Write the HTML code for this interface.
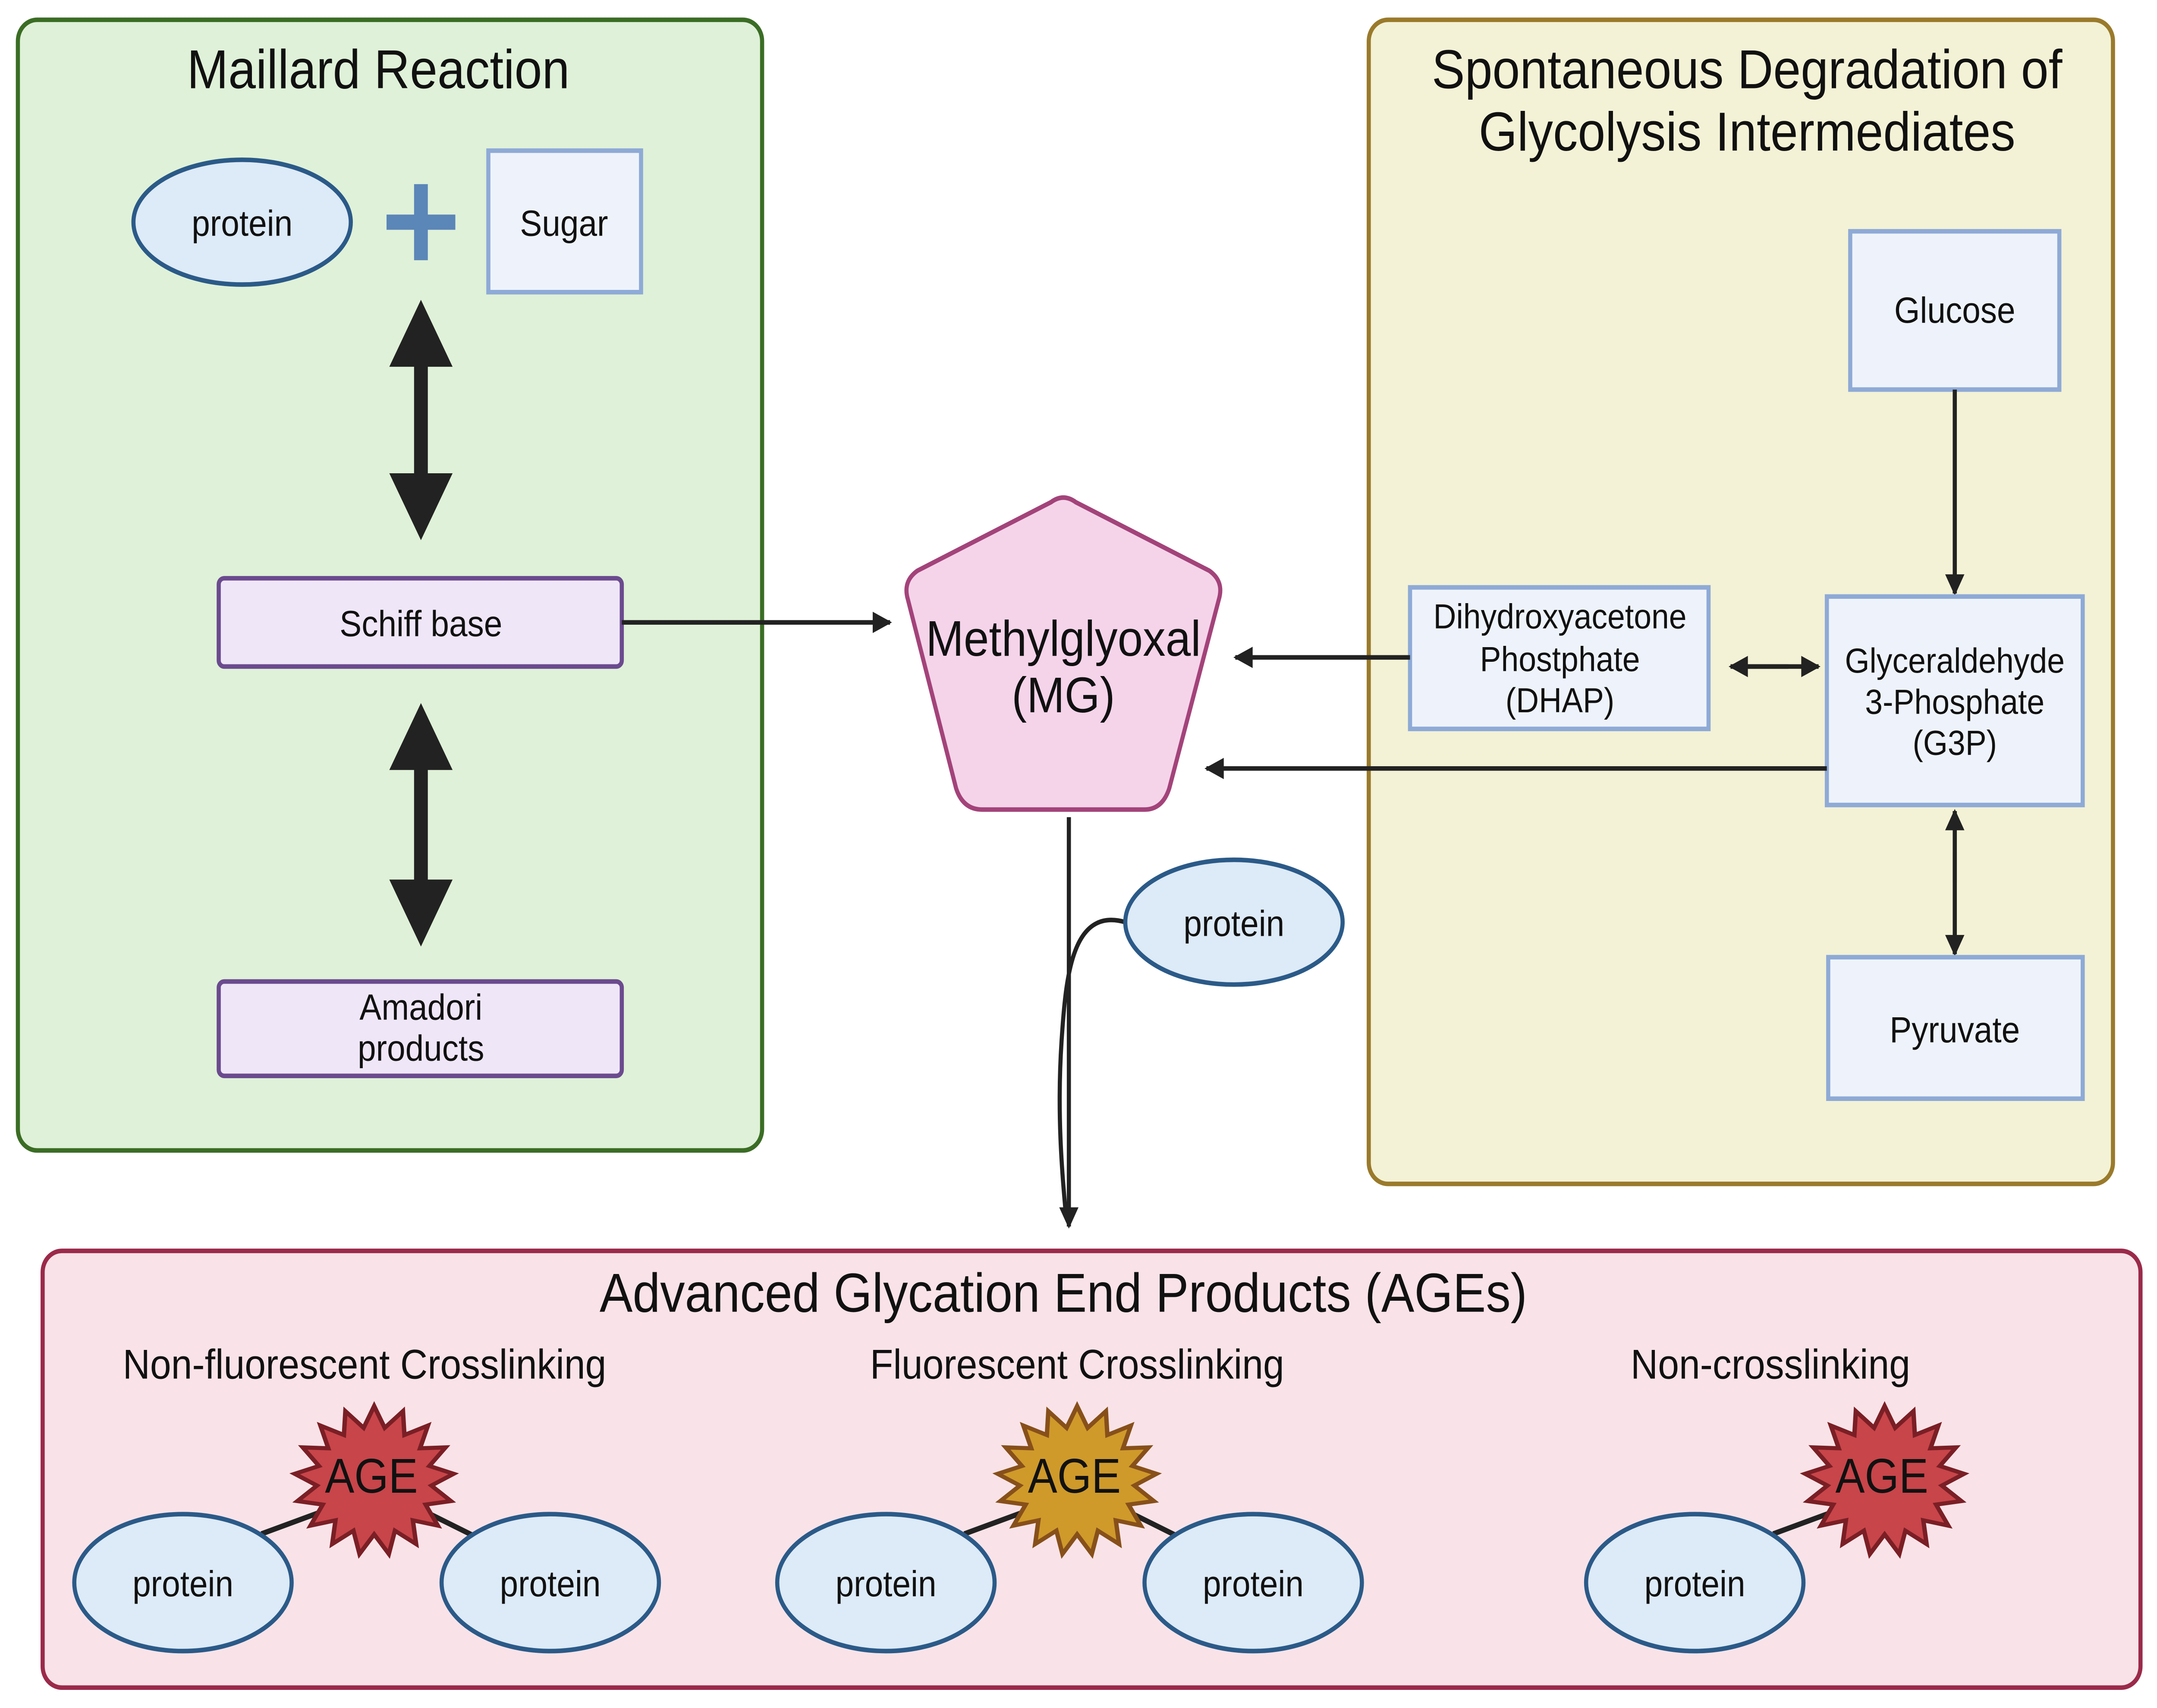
<!DOCTYPE html>
<html><head><meta charset="utf-8"><style>
html,body{margin:0;padding:0;background:#fff;width:100%;height:100%;overflow:hidden;}
svg{display:block;position:fixed;left:0;top:0;width:100vw;height:100vh;}
text{font-family:"Liberation Sans",sans-serif;fill:#111;text-anchor:middle;}
</style></head><body>
<svg viewBox="0 0 1568 1122.4" preserveAspectRatio="none" xmlns="http://www.w3.org/2000/svg">
<defs>
<polygon id="star" points="0,-1 .132,-.708 .361,-.932 .379,-.612 .674,-.739 .575,-.434 .895,-.446 .692,-.197 .996,-.092 .717,.066 .962,.274 .645,.321 .798,.603 .485,.532 .526,.85 .26,.671 .184,.983 0,.72 -.184,.983 -.26,.671 -.526,.85 -.485,.532 -.798,.603 -.645,.321 -.962,.274 -.717,.066 -.996,-.092 -.692,-.197 -.895,-.446 -.575,-.434 -.674,-.739 -.379,-.612 -.361,-.932 -.132,-.708"/>
<marker id="ah" viewBox="0 0 10 10" refX="9" refY="5" markerWidth="15" markerHeight="14" markerUnits="userSpaceOnUse" orient="auto"><path d="M0,0L10,5L0,10z" fill="#222"/></marker>
</defs>
<rect x="13" y="13" width="541" height="743" rx="14" fill="#dff1d8" stroke="#3b6d25" stroke-width="3"/>
<text x="275" y="58" font-size="36">Maillard Reaction</text>
<ellipse cx="176" cy="146" rx="79" ry="41" fill="#ddeaf7" stroke="#2b5a88" stroke-width="3"/>
<text x="176" y="155" font-size="24">protein</text>
<rect x="301" y="121" width="10" height="50" fill="#5b86b8"/>
<rect x="281" y="141" width="50" height="10" fill="#5b86b8"/>
<rect x="355" y="99" width="111" height="93" fill="#eef3fb" stroke="#8eaad6" stroke-width="3"/>
<text x="410" y="155" font-size="24">Sugar</text>
<rect x="301" y="238" width="10" height="78" fill="#222"/>
<path d="M306,197L329,241L283,241z M306,355L329,311L283,311z" fill="#222"/>
<rect x="159" y="380" width="293" height="58" rx="4" fill="#efe6f8" stroke="#6b4a8e" stroke-width="3"/>
<text x="306" y="418" font-size="24">Schiff base</text>
<rect x="301" y="503" width="10" height="78" fill="#222"/>
<path d="M306,462L329,506L283,506z M306,622L329,578L283,578z" fill="#222"/>
<rect x="159" y="645" width="293" height="62" rx="4" fill="#efe6f8" stroke="#6b4a8e" stroke-width="3"/>
<text x="306" y="670" font-size="24">Amadori</text>
<text x="306" y="697" font-size="24">products</text>
<line x1="452" y1="409" x2="647" y2="409" stroke="#222" stroke-width="3" marker-end="url(#ah)"/>
<rect x="995" y="13" width="541" height="765" rx="14" fill="#f3f2d6" stroke="#9a7a2b" stroke-width="3"/>
<text x="1270" y="58" font-size="36">Spontaneous Degradation of</text>
<text x="1270" y="99" font-size="36">Glycolysis Intermediates</text>
<rect x="1345" y="152" width="152" height="104" fill="#eef3fb" stroke="#8eaad6" stroke-width="3"/>
<text x="1421" y="212" font-size="24">Glucose</text>
<line x1="1421" y1="256" x2="1421" y2="390" stroke="#222" stroke-width="3" marker-end="url(#ah)"/>
<rect x="1328" y="392" width="186" height="137" fill="#eef3fb" stroke="#8eaad6" stroke-width="3"/>
<text x="1421" y="442" font-size="23">Glyceraldehyde</text>
<text x="1421" y="469" font-size="23">3-Phosphate</text>
<text x="1421" y="496" font-size="23">(G3P)</text>
<rect x="1025" y="386" width="217" height="93" fill="#eef3fb" stroke="#8eaad6" stroke-width="3"/>
<text x="1134" y="413" font-size="23">Dihydroxyacetone</text>
<text x="1134" y="441" font-size="23">Phostphate</text>
<text x="1134" y="468" font-size="23">(DHAP)</text>
<line x1="1270" y1="438" x2="1322" y2="438" stroke="#222" stroke-width="3" marker-end="url(#ah)"/>
<line x1="1300" y1="438" x2="1258" y2="438" stroke="#222" stroke-width="3" marker-end="url(#ah)"/>
<line x1="1025" y1="432" x2="898" y2="432" stroke="#222" stroke-width="3" marker-end="url(#ah)"/>
<line x1="1328" y1="505" x2="877" y2="505" stroke="#222" stroke-width="3" marker-end="url(#ah)"/>
<line x1="1421" y1="580" x2="1421" y2="533" stroke="#222" stroke-width="3" marker-end="url(#ah)"/>
<line x1="1421" y1="560" x2="1421" y2="627" stroke="#222" stroke-width="3" marker-end="url(#ah)"/>
<rect x="1329" y="629" width="185" height="93" fill="#eef3fb" stroke="#8eaad6" stroke-width="3"/>
<text x="1421" y="685" font-size="24">Pyruvate</text>
<path d="M764,330Q773,324 782,330L879,375Q890,382 886,394L850,518Q845,532 832,532L714,532Q700,532 695,518L660,394Q656,382 667,375Z" fill="#f5d4ea" stroke="#a3437a" stroke-width="3"/>
<text x="773" y="431" font-size="33">Methylglyoxal</text>
<text x="773" y="468" font-size="33">(MG)</text>
<line x1="777" y1="537" x2="777" y2="806" stroke="#222" stroke-width="3" marker-end="url(#ah)"/>
<path d="M818,606C780,596 775,640 772,680C768,730 772,770 775,800" fill="none" stroke="#222" stroke-width="3"/>
<ellipse cx="897" cy="606" rx="79" ry="41" fill="#ddeaf7" stroke="#2b5a88" stroke-width="3"/>
<text x="897" y="615" font-size="24">protein</text>
<rect x="31" y="822" width="1525" height="287" rx="14" fill="#f9e3e8" stroke="#9b2a4a" stroke-width="3"/>
<text x="773" y="862" font-size="36">Advanced Glycation End Products (AGEs)</text>
<text x="265" y="906" font-size="27.5">Non-fluorescent Crosslinking</text>
<text x="783" y="906" font-size="27.5">Fluorescent Crosslinking</text>
<text x="1287" y="906" font-size="27.5">Non-crosslinking</text>
<g stroke="#222" stroke-width="3.5">
<line x1="190" y1="1008" x2="238" y2="992"/><line x1="306" y1="992" x2="346" y2="1010"/>
<line x1="701" y1="1008" x2="749" y2="992"/><line x1="817" y1="992" x2="857" y2="1010"/>
<line x1="1289" y1="1008" x2="1337" y2="992"/>
</g>
<g transform="translate(272,973) scale(58,49)"><use href="#star" fill="#c8454a" stroke="#7a1f25" stroke-width="0.055"/></g>
<g transform="translate(783,973) scale(58,49)"><use href="#star" fill="#cf9a2a" stroke="#87501a" stroke-width="0.055"/></g>
<g transform="translate(1370,973) scale(58,49)"><use href="#star" fill="#c8454a" stroke="#7a1f25" stroke-width="0.055"/></g>
<text x="270" y="981" font-size="32">AGE</text>
<text x="781" y="981" font-size="32">AGE</text>
<text x="1368" y="981" font-size="32">AGE</text>
<g fill="#ddeaf7" stroke="#2b5a88" stroke-width="3">
<ellipse cx="133" cy="1040" rx="79" ry="45"/><ellipse cx="400" cy="1040" rx="79" ry="45"/>
<ellipse cx="644" cy="1040" rx="79" ry="45"/><ellipse cx="911" cy="1040" rx="79" ry="45"/>
<ellipse cx="1232" cy="1040" rx="79" ry="45"/>
</g>
<text x="133" y="1049" font-size="24">protein</text>
<text x="400" y="1049" font-size="24">protein</text>
<text x="644" y="1049" font-size="24">protein</text>
<text x="911" y="1049" font-size="24">protein</text>
<text x="1232" y="1049" font-size="24">protein</text>
</svg>
</body></html>
